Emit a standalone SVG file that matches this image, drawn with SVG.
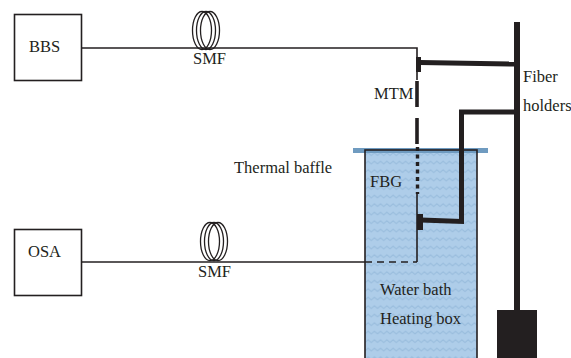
<svg xmlns="http://www.w3.org/2000/svg" width="571" height="358" viewBox="0 0 571 358">
<style>
text{font-family:"Liberation Serif","Times New Roman",serif;font-size:16.5px;fill:#231f20}
.box{fill:#fff;stroke:#231f20;stroke-width:1.6}
.fib{fill:none;stroke:#231f20;stroke-width:1.6}
.hold{fill:none;stroke:#231f20;stroke-width:5}
.solid{fill:#231f20}
.coil{fill:none;stroke:#231f20;stroke-width:1.300}
</style>
<defs>
<pattern id="wave" width="12.500" height="8.500" patternUnits="userSpaceOnUse" x="365" y="150">
<rect width="12.500" height="8.500" fill="#aecde9"/>
<path d="M0 5.500 L3.100 2.800 L6.250 5.500 L9.400 2.800 L12.500 5.500" fill="none" stroke="#97bbdc" stroke-width="1"/>
</pattern>
<g id="coilShape">
<ellipse cx="-4" cy="0" rx="9.500" ry="19" class="coil"/>
<ellipse cx="0" cy="0" rx="9.500" ry="19" class="coil"/>
<ellipse cx="4" cy="0" rx="9.500" ry="19" class="coil"/>
</g>
</defs>
<g id="heating-box">
<rect x="365" y="150" width="112" height="210" fill="url(#wave)"/>
<rect x="353" y="148" width="135" height="5" fill="#6f9bc0"/>
<rect x="365" y="150" width="112" height="210" fill="none" stroke="#231f20" stroke-width="1.6"/>
<text x="380" y="295">Water bath</text>
<text x="380" y="324">Heating box</text>
</g>
<g id="connectors">
<path class="fib" d="M82 48H417V57"/>
<path class="fib" d="M82 262H365"/>
<path class="fib" d="M365 262H417" stroke-dasharray="7 5"/>
<path class="fib" d="M417 262V192"/>
<path d="M417 72V80" class="fib"/>
<path d="M417 81V107M417 118V144" fill="none" stroke="#231f20" stroke-width="3.600"/>
<path d="M417.500 147V194" fill="none" stroke="#231f20" stroke-width="3.400" stroke-dasharray="4 3.500"/>
</g>
<g id="bbs"><rect class="box" x="14.500" y="14.500" width="67" height="66"/><text x="29" y="52">BBS</text></g>
<g id="osa"><rect class="box" x="14.500" y="229.500" width="67" height="66"/><text x="28" y="257">OSA</text></g>
<g id="smf1"><use href="#coilShape" x="206" y="30.500"/><text x="193" y="64">SMF</text></g>
<g id="smf2"><use href="#coilShape" x="214" y="241.500"/><text x="198" y="277">SMF</text></g>
<g id="fiber-holders">
<rect class="solid" x="514" y="22" width="6" height="290"/>
<rect class="solid" x="497" y="310" width="40" height="48"/>
<path class="hold" d="M420 62.500L515 64"/>
<rect class="solid" x="416" y="57" width="5" height="15"/>
<path class="hold" d="M515 112H461.500V221.500L421 220"/>
<rect class="solid" x="417" y="214" width="6" height="16"/>
<text x="523" y="82">Fiber</text>
<text x="523" y="111">holders</text>
</g>
<g id="labels">
<text x="374" y="99">MTM</text>
<text x="234" y="173">Thermal baffle</text>
<text x="370" y="187">FBG</text>
</g>
</svg>
